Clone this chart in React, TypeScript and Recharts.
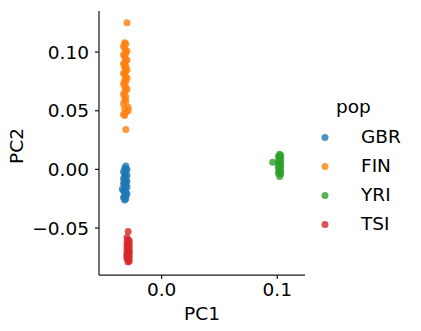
import React from "react";
import { ScatterChart, Scatter, XAxis, YAxis, ZAxis } from "recharts";

const populations = ["GBR", "FIN", "YRI", "TSI"];
const colors = ["#1f77b4", "#ff7f0e", "#2ca02c", "#d62728"];

const gbrPC1 = [-0.031, -0.032, -0.030, -0.031, -0.033, -0.032, -0.030, -0.031, -0.032, -0.033, -0.031, -0.030, -0.032, -0.031, -0.033, -0.032, -0.031, -0.030, -0.032, -0.034, -0.033, -0.031, -0.032, -0.030, -0.031, -0.032, -0.033, -0.031, -0.032, -0.031];
const gbrPC2 = [0.003, 0.001, 0.0, -0.001, -0.002, -0.004, -0.005, -0.006, -0.007, -0.008, -0.009, -0.010, -0.011, -0.012, -0.012, -0.013, -0.014, -0.015, -0.016, -0.017, -0.018, -0.019, -0.020, -0.021, -0.022, -0.023, -0.024, -0.025, -0.026, -0.020];

const finPC1 = [-0.030, -0.032, -0.031, -0.033, -0.032, -0.030, -0.031, -0.033, -0.032, -0.031, -0.030, -0.032, -0.033, -0.031, -0.032, -0.030, -0.031, -0.033, -0.032, -0.031, -0.030, -0.032, -0.031, -0.033, -0.032, -0.031, -0.030, -0.032, -0.033, -0.031, -0.032, -0.031, -0.033, -0.029, -0.032, -0.029, -0.031, -0.033, -0.032, -0.031];
const finPC2 = [0.125, 0.108, 0.107, 0.105, 0.103, 0.101, 0.099, 0.098, 0.096, 0.094, 0.093, 0.091, 0.090, 0.088, 0.087, 0.085, 0.084, 0.082, 0.081, 0.079, 0.078, 0.076, 0.075, 0.073, 0.071, 0.070, 0.068, 0.066, 0.064, 0.062, 0.060, 0.058, 0.056, 0.053, 0.052, 0.050, 0.049, 0.047, 0.046, 0.034];

const yriPC1 = [0.102, 0.103, 0.101, 0.102, 0.103, 0.102, 0.101, 0.103, 0.102, 0.101, 0.103, 0.102, 0.101, 0.102, 0.103, 0.096, 0.102, 0.101, 0.103, 0.102];
const yriPC2 = [0.013, 0.012, 0.011, 0.010, 0.009, 0.008, 0.007, 0.006, 0.005, 0.004, 0.003, 0.002, 0.001, 0.0, -0.001, 0.006, -0.002, -0.003, -0.004, -0.006];

const tsiPC1 = [-0.029, -0.030, -0.029, -0.028, -0.030, -0.029, -0.028, -0.030, -0.029, -0.028, -0.030, -0.029, -0.028, -0.030, -0.029, -0.028, -0.030, -0.029, -0.028, -0.030, -0.029, -0.028, -0.029, -0.030, -0.029];
const tsiPC2 = [-0.053, -0.058, -0.060, -0.061, -0.062, -0.063, -0.064, -0.065, -0.066, -0.067, -0.068, -0.069, -0.070, -0.071, -0.072, -0.072, -0.073, -0.074, -0.075, -0.076, -0.077, -0.078, -0.079, -0.074, -0.066];

const xTicks = [0.0, 0.1];
const yTicks = [-0.05, 0.0, 0.05, 0.1];

const toPoints = (xs: number[], ys: number[]) => xs.map((x, i) => ({ x, y: ys[i] }));
const seriesData = [
  toPoints(gbrPC1, gbrPC2),
  toPoints(finPC1, finPC2),
  toPoints(yriPC1, yriPC2),
  toPoints(tsiPC1, tsiPC2),
];

const FONT = "'DejaVu Sans', sans-serif";
const INK = "#000000";
const LINE = "#1a1a1a";
const FS = 18.5;

const yFmt = (v: number) => {
  const s = Math.abs(v).toFixed(2);
  return v < 0 ? "\u2212" + s : s;
};
const xFmt = (v: number) => v.toFixed(1);

const XLabel = (props: any) => {
  const vb = props.viewBox || {};
  return (
    <text x={vb.x + vb.width / 2} y={vb.y + 45} textAnchor="middle" fill={INK} fontSize={FS} fontFamily={FONT}>
      PC1
    </text>
  );
};

const YLabel = (props: any) => {
  const vb = props.viewBox || {};
  const cx = 23;
  const cy = vb.y + vb.height / 2 + 3;
  return (
    <text x={cx} y={cy} transform={`rotate(-90, ${cx}, ${cy})`} textAnchor="middle" fill={INK} fontSize={FS} fontFamily={FONT}>
      PC2
    </text>
  );
};

export default function App() {
  return (
    <div style={{ position: "absolute", left: 0, top: 0, width: 421, height: 331, background: "#fff", fontFamily: FONT }}>
      <ScatterChart
        width={421}
        height={331}
        margin={{ top: 11, right: 116, bottom: 0, left: 0 }}
        style={{ fontFamily: FONT }}
      >
        <XAxis
          type="number"
          dataKey="x"
          domain={[-0.0542, 0.124]}
          ticks={xTicks}
          tickFormatter={xFmt}
          height={56}
          allowDataOverflow
          stroke={LINE}
          strokeWidth={1.25}
          tickSize={4}
          tickMargin={4}
          fontSize={FS}
          tick={{ fill: INK, fontSize: FS, fontFamily: FONT }}
          label={<XLabel />}
        />
        <YAxis
          type="number"
          dataKey="y"
          domain={[-0.09, 0.135]}
          ticks={yTicks}
          tickFormatter={yFmt}
          width={99}
          allowDataOverflow
          stroke={LINE}
          strokeWidth={1.25}
          tickSize={4}
          tickMargin={6}
          fontSize={FS}
          tick={{ fill: INK, fontSize: FS, fontFamily: FONT }}
          label={<YLabel />}
        />
        <ZAxis range={[40, 40]} />
        {seriesData.map((d, i) => (
          <Scatter
            key={populations[i]}
            name={populations[i]}
            data={d}
            fill={colors[i]}
            fillOpacity={0.8}
            isAnimationActive={false}
            shape={(p: any) => (
              <circle cx={p.cx} cy={p.cy} r={3.5} fill={colors[i]} fillOpacity={0.8} />
            )}
          />
        ))}
      </ScatterChart>
      <div style={{ position: "absolute", left: 0, top: 0, width: 421, height: 331, pointerEvents: "none", fontFamily: FONT, fontSize: FS, color: INK }}>
        <div style={{ position: "absolute", left: 336, top: 96, lineHeight: "22px" }}>pop</div>
        {populations.map((p, i) => (
          <div key={p} style={{ position: "absolute", left: 0, top: 126 + i * 29, height: 22 }}>
            <svg width={14} height={22} style={{ position: "absolute", left: 318, top: 0 }}>
              <circle cx={7} cy={11.5} r={3.5} fill={colors[i]} fillOpacity={0.8} />
            </svg>
            <div style={{ position: "absolute", left: 361, top: 0, lineHeight: "22px", whiteSpace: "nowrap" }}>{p}</div>
          </div>
        ))}
      </div>
    </div>
  );
}
